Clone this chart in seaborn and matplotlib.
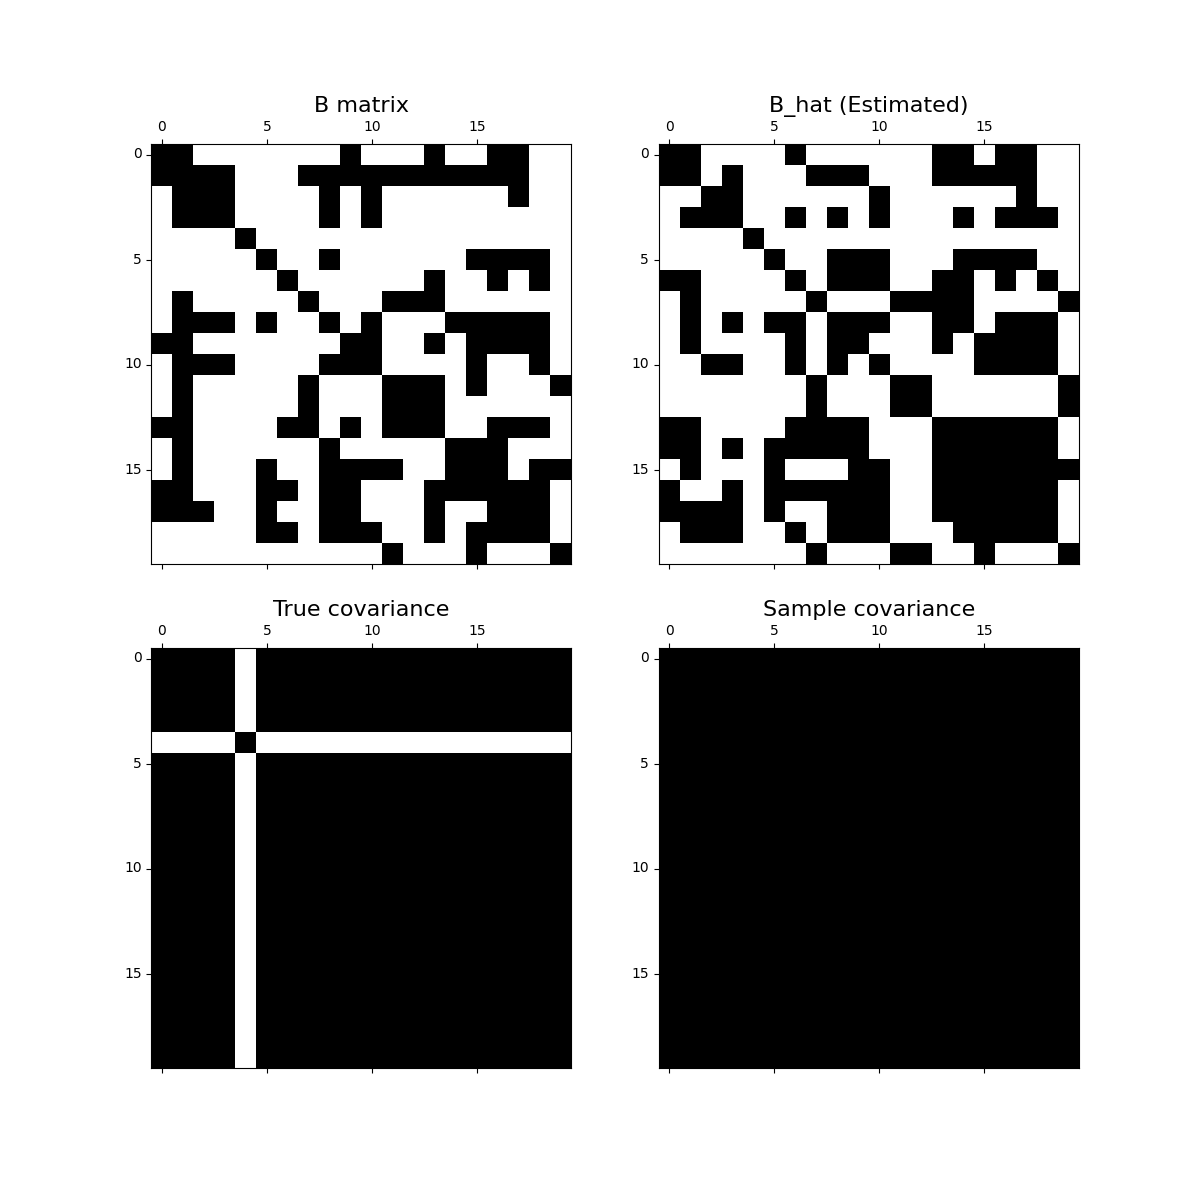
import numpy as np
import matplotlib
matplotlib.use("Agg")
import matplotlib.pyplot as plt
import seaborn as sns

n = 20

# non-zero columns in each row
b_rows = [
    [0, 1, 9, 13, 16, 17],
    [0, 1, 2, 3, 7, 8, 9, 10, 11, 12, 13, 14, 15, 16, 17],
    [1, 2, 3, 8, 10, 17],
    [1, 2, 3, 8, 10],
    [4],
    [5, 8, 15, 16, 17, 18],
    [6, 13, 16, 18],
    [1, 7, 11, 12, 13],
    [1, 2, 3, 5, 8, 10, 14, 15, 16, 17, 18],
    [0, 1, 9, 10, 13, 15, 16, 17, 18],
    [1, 2, 3, 8, 9, 10, 15, 18],
    [1, 7, 11, 12, 13, 15, 19],
    [1, 7, 11, 12, 13],
    [0, 1, 6, 7, 9, 11, 12, 13, 16, 17, 18],
    [1, 8, 14, 15, 16],
    [1, 5, 8, 9, 10, 11, 14, 15, 16, 18, 19],
    [0, 1, 5, 6, 8, 9, 13, 14, 15, 16, 17, 18],
    [0, 1, 2, 5, 8, 9, 13, 16, 17, 18],
    [5, 6, 8, 9, 10, 13, 15, 16, 17, 18],
    [11, 15, 19],
]

b_hat_rows = [
    [0, 1, 6, 13, 14, 16, 17],
    [0, 1, 3, 7, 8, 9, 13, 14, 15, 16, 17],
    [2, 3, 10, 17],
    [1, 2, 3, 6, 8, 10, 14, 16, 17, 18],
    [4],
    [5, 8, 9, 10, 14, 15, 16, 17],
    [0, 1, 6, 8, 9, 10, 13, 14, 16, 18],
    [1, 7, 11, 12, 13, 14, 19],
    [1, 3, 5, 6, 8, 9, 10, 13, 14, 16, 17, 18],
    [1, 6, 8, 9, 13, 15, 16, 17, 18],
    [2, 3, 6, 8, 10, 15, 16, 17, 18],
    [7, 11, 12, 19],
    [7, 11, 12, 19],
    [0, 1, 6, 7, 8, 9, 13, 14, 15, 16, 17, 18],
    [0, 1, 3, 5, 6, 7, 8, 9, 13, 14, 15, 16, 17, 18],
    [1, 5, 9, 10, 13, 14, 15, 16, 17, 18, 19],
    [0, 3, 5, 6, 7, 8, 9, 10, 13, 14, 15, 16, 17, 18],
    [0, 1, 2, 3, 5, 8, 9, 10, 13, 14, 15, 16, 17, 18],
    [1, 2, 3, 6, 8, 9, 10, 14, 15, 16, 17, 18],
    [7, 11, 12, 15, 19],
]

# true covariance: dense except variable 4, which only covaries with itself
isolated_var = 4
all_cols = list(range(n))
others = [c for c in all_cols if c != isolated_var]
true_cov_rows = [[isolated_var] if r == isolated_var else others for r in all_cols]

# sample covariance: every entry non-zero
sample_cov_rows = [all_cols for r in all_cols]

titles = ["B matrix", "B_hat (Estimated)", "True covariance", "Sample covariance"]
tick_vals = [0, 5, 10, 15]


def to_matrix(rows):
    m = np.zeros((n, n))
    for r, cols in enumerate(rows):
        m[r, cols] = 1
    return m


mats = [to_matrix(b_rows), to_matrix(b_hat_rows),
        to_matrix(true_cov_rows), to_matrix(sample_cov_rows)]

fig, axes = plt.subplots(2, 2, figsize=(12, 12), dpi=100)

for ax, m, title in zip(axes.flat, mats, titles):
    sns.heatmap(m, ax=ax, cmap="binary", vmin=0, vmax=1, cbar=False,
                square=True, linewidths=0)
    for sp in ax.spines.values():
        sp.set_visible(True)
        sp.set_color("black")
        sp.set_linewidth(0.8)
    ax.set_xticks([t + 0.5 for t in tick_vals])
    ax.set_xticklabels([str(t) for t in tick_vals], rotation=0)
    ax.set_yticks([t + 0.5 for t in tick_vals])
    ax.set_yticklabels([str(t) for t in tick_vals], rotation=0)
    ax.xaxis.tick_top()
    ax.tick_params(axis="x", top=True, bottom=True, labeltop=True, labelbottom=False)
    ax.tick_params(axis="both", labelsize=10, length=3.5, width=0.8)
    ax.set_title(title, fontsize=16)

fig.savefig("out.png", dpi=100)
